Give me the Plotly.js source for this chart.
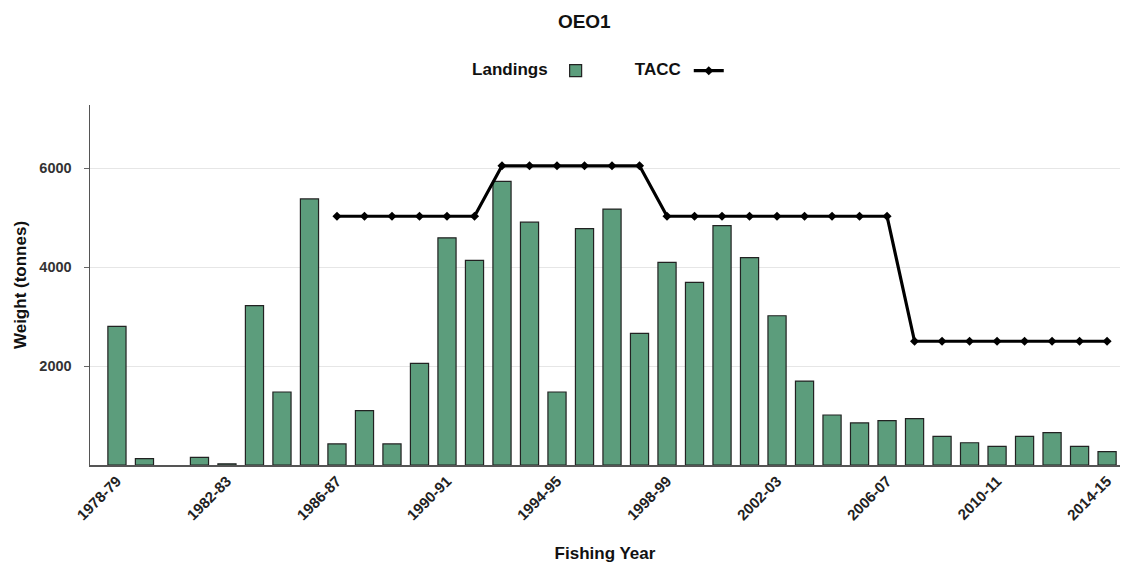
<!DOCTYPE html>
<html>
<head>
<meta charset="utf-8">
<script src="https://cdn.plot.ly/plotly-3.0.1.min.js"></script>
<style>html,body{margin:0;padding:0;background:#fff;}#chart{width:1128px;height:567px;}</style>
</head>
<body>
<div id="chart"></div>
<script>
var years = ["1978-79","1979-80","1980-81","1981-82","1982-83","1983-84","1984-85","1985-86",
  "1986-87","1987-88","1988-89","1989-90","1990-91","1991-92","1992-93","1993-94","1994-95",
  "1995-96","1996-97","1997-98","1998-99","1999-00","2000-01","2001-02","2002-03","2003-04",
  "2004-05","2005-06","2006-07","2007-08","2008-09","2009-10","2010-11","2011-12","2012-13",
  "2013-14","2014-15"];
var landings = [2800,130,null,155,25,3220,1475,5375,
  425,1100,425,2055,4590,4135,5730,4905,1475,
  4775,5170,2660,4095,3690,4835,4190,3015,1695,
  1010,850,895,935,580,450,375,580,655,
  375,270];
var tacc = [null,null,null,null,null,null,null,null,
  5025,5025,5025,5025,5025,5025,6045,6045,6045,
  6045,6045,6045,5025,5025,5025,5025,5025,5025,
  5025,5025,5025,2500,2500,2500,2500,2500,2500,
  2500,2500];
var tickLabels = ["1978-79","1982-83","1986-87","1990-91","1994-95","1998-99","2002-03","2006-07","2010-11","2014-15"];
var yTicks = [2000,4000,6000];

var FONT = "Liberation Sans, Arial, sans-serif";

var traces = [
  {
    type: "bar", x: years, y: landings, name: "", legend: "legend",
    width: 0.66,
    marker: {color: "#5c9d7c", line: {color: "#222222", width: 1.2}},
    hoverinfo: "x+y"
  },
  {
    type: "scatter", mode: "lines+markers", x: years, y: tacc, name: "", legend: "legend2",
    line: {color: "#000000", width: 3.2},
    marker: {symbol: "diamond", size: 7, color: "#000000"},
    connectgaps: false
  }
];

var layout = {
  width: 1128, height: 567,
  paper_bgcolor: "#ffffff", plot_bgcolor: "#ffffff",
  margin: {l: 90, r: 8, t: 105, b: 102},
  font: {family: FONT, color: "#222222"},
  title: {text: "<b>OEO1</b>", x: 0.518, xref: "container", y: 0.963, yref: "container",
          xanchor: "center", yanchor: "middle", font: {size: 19, color: "#111111", family: FONT}},
  showlegend: true,
  legend: {
    x: 0.369, xanchor: "left", y: 1.094, yanchor: "middle", orientation: "h",
    title: {text: "<b>Landings</b>", side: "left", font: {size: 17, color: "#111111"}},
    font: {size: 17}, bgcolor: "rgba(0,0,0,0)"
  },
  legend2: {
    x: 0.527, xanchor: "left", y: 1.094, yanchor: "middle", orientation: "h",
    title: {text: "<b>TACC</b>", side: "left", font: {size: 17, color: "#111111"}},
    font: {size: 17}, bgcolor: "rgba(0,0,0,0)"
  },
  xaxis: {
    type: "category", categoryorder: "array", categoryarray: years,
    range: [-0.98, 36.47],
    tickmode: "array", tickvals: tickLabels, ticktext: tickLabels.map(function(t){return "<b>"+t+"</b>";}),
    tickangle: -45, tickfont: {size: 15, color: "#222222"},
    ticks: "", showgrid: false, zeroline: false,
    showline: true, linecolor: "#555555", linewidth: 1.5,
    title: {text: "<b>Fishing Year</b>", font: {size: 17, color: "#111111"}, standoff: 24},
    automargin: false
  },
  yaxis: {
    range: [0, 7273],
    tickmode: "array", tickvals: yTicks, ticktext: yTicks.map(function(v){return "<b>"+v+"</b>";}),
    tickfont: {size: 14.5, color: "#333333"},
    ticks: "outside", ticklen: 5, tickcolor: "#666666", tickwidth: 1,
    ticklabelstandoff: 9,
    showgrid: true, gridcolor: "#e6e6e6", gridwidth: 1,
    zeroline: false, showline: true, linecolor: "#555555", linewidth: 1.5,
    title: {text: "<b>Weight (tonnes)</b>", font: {size: 17, color: "#111111"}, standoff: 8},
    automargin: false
  },
  bargap: 0.3
};

Plotly.newPlot("chart", traces, layout, {displayModeBar: false, staticPlot: true});
</script>
</body>
</html>
